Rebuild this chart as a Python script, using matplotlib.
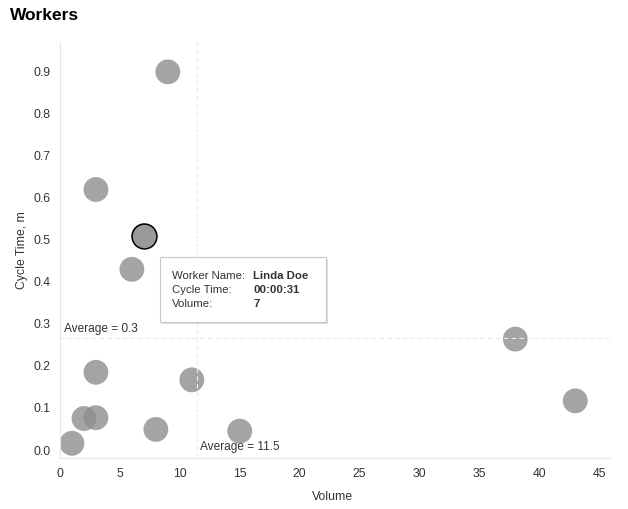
import matplotlib
matplotlib.use("Agg")
import matplotlib.pyplot as plt
from matplotlib.patches import FancyBboxPatch
import numpy as np

plt.rcParams['font.family'] = ['Liberation Sans', 'DejaVu Sans']

# worker data
workers = ['W1', 'W2', 'Linda Doe', 'W4', 'W5', 'W6', 'W7', 'W8', 'W9', 'W10', 'W11', 'W12', 'W13']
volume = [9, 3, 7, 6, 3, 11, 2, 3, 8, 1, 15, 38, 43]
cycle_time = [0.90, 0.62, 0.51, 0.43, 0.185, 0.167, 0.075, 0.077, 0.049, 0.016, 0.045, 0.264, 0.117]
y_ticks = [0.0, 0.1, 0.2, 0.3, 0.4, 0.5, 0.6, 0.7, 0.8, 0.9]
x_ticks = [0, 5, 10, 15, 20, 25, 30, 35, 40, 45]
hover_idx = 2
hover_time = "00:00:31"

avg_x = np.mean(volume)
avg_y = np.mean(cycle_time)

fig = plt.figure(figsize=(6.28, 5.09), dpi=100)
ax = fig.add_axes([60/628, 1 - 458/509, 550/628, 416/509])

ax.set_xlim(0, 45.9)
ax.set_ylim(-0.019, 0.971)

# average lines
ax.axhline(avg_y, color='#d8d8d8', lw=0.8, ls=(0, (4, 3)), zorder=1)
ax.axvline(avg_x, color='#d8d8d8', lw=0.8, ls=(0, (4, 3)), zorder=1)

ax.scatter(volume, cycle_time, s=320, color='#8e8e8e', alpha=0.8,
           edgecolors='none', zorder=2)
ax.scatter([volume[hover_idx]], [cycle_time[hover_idx]], s=320, color='#9a9a9a',
           edgecolors='black', linewidths=1.1, zorder=3)
# dashed lines stay visible over the points
ax.axhline(avg_y, color='#ececec', lw=0.8, ls=(0, (4, 3)), zorder=2.5)
ax.axvline(avg_x, color='#ececec', lw=0.8, ls=(0, (4, 3)), zorder=2.5)

ax.text(0.3, avg_y + 0.008, f"Average = {avg_y:.1f}", fontsize=8.6, color='#333333',
        ha='left', va='bottom')
ax.text(avg_x + 0.25, -0.006, f"Average = {avg_x:.1f}", fontsize=8.6, color='#333333',
        ha='left', va='bottom')

for s in ['top', 'right']:
    ax.spines[s].set_visible(False)
ax.spines['left'].set_color('#e6e6e6')
ax.spines['bottom'].set_color('#e6e6e6')
ax.spines['left'].set_linewidth(0.8)
ax.spines['bottom'].set_linewidth(0.8)

ax.set_xticks(x_ticks)
ax.set_yticks(y_ticks)
ax.set_yticklabels([f"{v:.1f}" for v in y_ticks])
ax.tick_params(length=0, labelsize=8.8, labelcolor='#333333')
ax.tick_params(axis='y', pad=7)
ax.tick_params(axis='x', pad=7)

ax.set_xlabel("Volume", fontsize=8.8, color='#333333')
ax.set_ylabel("Cycle Time, m", fontsize=8.8, color='#333333')
ax.xaxis.set_label_coords((333 - 60) / 550, -(491 - 458) / 416)
ax.yaxis.set_label_coords(-(60 - 28) / 550, (458 - 250) / 416)

fig.text(10/628, 1 - 16/509, "Workers", fontsize=12.5, fontweight='bold',
         ha='left', va='center')

# tooltip
bx0, by0, bw, bh = 160/628, 1 - 322/509, 166/628, 65/509
shadow = FancyBboxPatch((bx0 + 2/628, by0 - 2/509), bw, bh, boxstyle='square,pad=0',
                        transform=fig.transFigure, facecolor='#dcdcdc', edgecolor='none',
                        zorder=10)
box = FancyBboxPatch((bx0, by0), bw, bh, boxstyle='square,pad=0',
                     transform=fig.transFigure, facecolor='white', edgecolor='#c8c8c8',
                     lw=0.8, zorder=11)
fig.patches.extend([shadow, box])
rows = [("Worker Name:", workers[hover_idx]),
        ("Cycle Time:", hover_time),
        ("Volume:", str(volume[hover_idx]))]
for i, (k, v) in enumerate(rows):
    yy = 1 - (276 + i * 14) / 509
    fig.text(172/628, yy, k, fontsize=8.2, color='#333333', va='center', zorder=12)
    fig.text(253/628, yy, v, fontsize=8.2, color='#333333', fontweight='bold',
             va='center', zorder=12)

fig.savefig("out.png", dpi=100)
